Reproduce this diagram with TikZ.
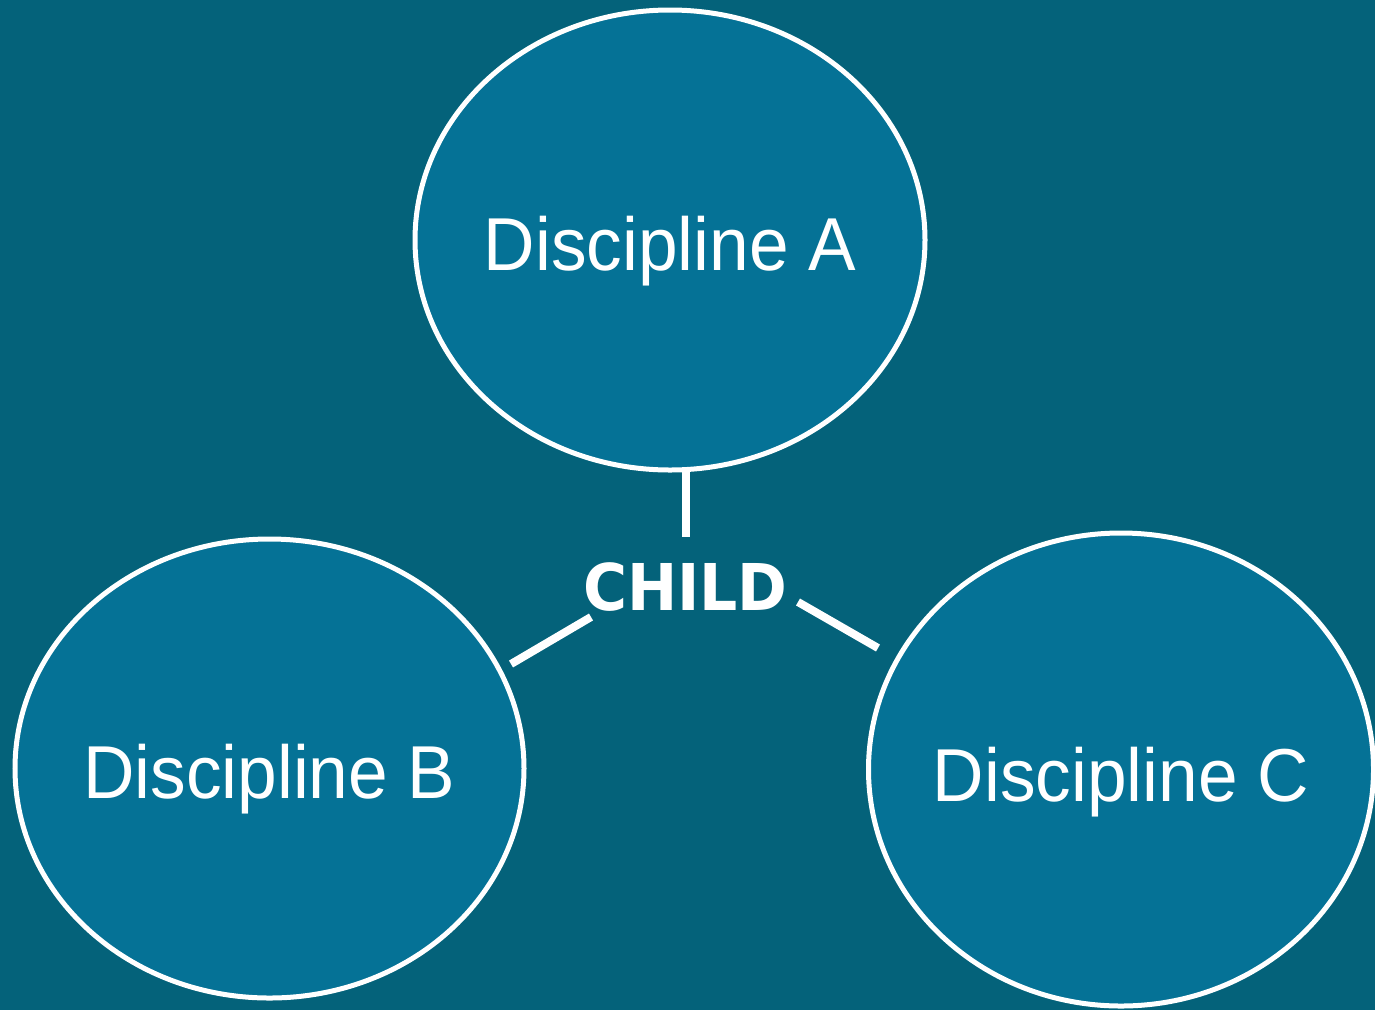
\documentclass[tikz,border=0pt]{standalone}
\usepackage{fontspec}
\setmainfont{Liberation Sans}
\newfontfamily\discfont[FakeStretch=0.95]{Liberation Sans}
\newfontfamily\childfont[FakeStretch=0.93]{DejaVu Sans}
\usetikzlibrary{shapes.geometric}
\definecolor{bgteal}{RGB}{4,98,122}
\definecolor{fillteal}{RGB}{5,114,150}
\tikzset{
  disc/.style={ellipse, draw=white, line width=5pt, fill=fillteal, inner sep=0pt,
    text=white, font=\discfont\fontsize{75}{80}\selectfont, text height=54pt, text depth=0pt},
  childlabel/.style={text=white, font=\childfont\bfseries\fontsize{64.5}{68}\selectfont, inner sep=0pt, text height=47pt, text depth=0pt},
  link/.style={draw=white, line width=8pt}
}
\begin{document}
\begin{tikzpicture}[x=1pt,y=-1pt]
\fill[bgteal] (0,0) rectangle (1375,1010);
\useasboundingbox (0,0) rectangle (1375,1010);
\node[disc, minimum width=510pt, minimum height=460pt] (A) at (670,240) {\makebox[0pt]{\raisebox{-3.5pt}{Discipline A}}};
\node[disc, minimum width=509pt, minimum height=459pt] (B) at (269.5,768.5) {\makebox[0pt]{\raisebox{-3pt}{Discipline B}}};
\node[disc, minimum width=505pt, minimum height=473pt] (C) at (1121,769.5) {\makebox[0pt]{\raisebox{-4.5pt}{Discipline C}}};
\node[childlabel] (child) at (685.5,586.5) {CHILD};
\coordinate (atop) at (686,472);
\coordinate (abot) at (686,537);
\coordinate (bl) at (511,664);
\coordinate (br) at (591,617);
\coordinate (cl) at (798,602);
\coordinate (cr) at (878,648);
\draw[link] (atop) -- (abot);
\draw[link] (bl) -- (br);
\draw[link] (cl) -- (cr);
\end{tikzpicture}
\end{document}
